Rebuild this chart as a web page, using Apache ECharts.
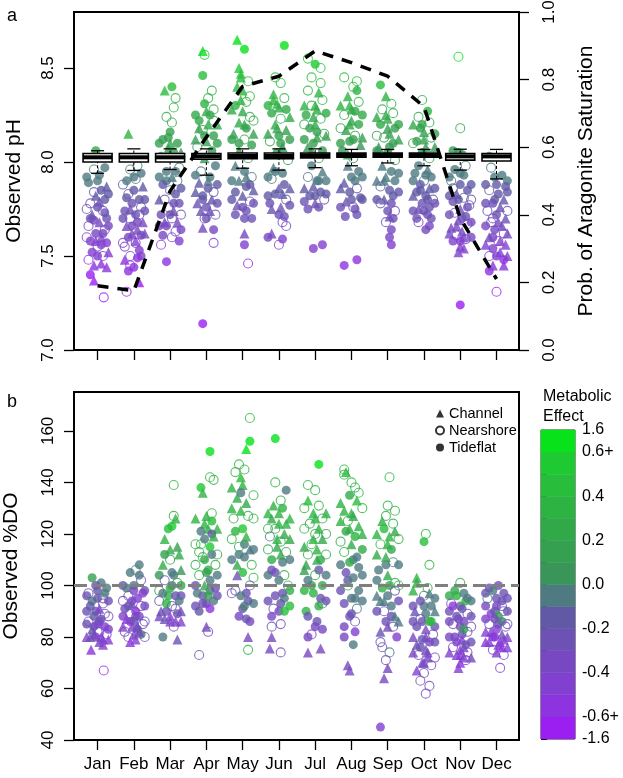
<!DOCTYPE html>
<html><head><meta charset="utf-8">
<script src="https://cdn.jsdelivr.net/npm/echarts@6/dist/echarts.min.js"></script>
<style>html,body{margin:0;padding:0;background:#fff}#c{width:623px;height:778px}</style>
</head><body><div id="c"></div>
<script>
// ---------- data ----------
const months = ['Jan','Feb','Mar','Apr','May','Jun','Jul','Aug','Sep','Oct','Nov','Dec'];
const monthPos = [1,2,3,4,5,6,7,8,9,10,11,12];
const phTicks = [7.0, 7.5, 8.0, 8.5];
const probTicks = [0, 0.2, 0.4, 0.6, 0.8, 1.0];
const doTicks = [40, 60, 80, 100, 120, 140, 160];
const siteNames = ['Channel', 'Nearshore', 'Tideflat'];
const effectBreaks = [-1.6,-0.6,-0.5,-0.4,-0.3,-0.2,-0.1,0,0.1,0.2,0.3,0.4,0.5,0.6,1.6];
const effectLabels = ['-1.6','-0.6+','','-0.4','','-0.2','','0.0','','0.2','','0.4','','0.6+','1.6'];
const probSat = [0.19, 0.175, 0.47, 0.63, 0.78, 0.81, 0.885, 0.85, 0.81, 0.72, 0.39, 0.21];
const boxWhiskLo = [7.94,7.955,7.96,7.93,7.967,7.957,7.97,7.98,7.995,7.98,7.957,7.91];
const boxQ1 = [8.0,8.0,8.0,8.015,8.018,8.018,8.022,8.025,8.025,8.025,8.01,8.005];
const boxMed = [8.025,8.025,8.025,8.03,8.032,8.032,8.035,8.037,8.037,8.037,8.03,8.03];
const boxQ3 = [8.045,8.045,8.045,8.045,8.048,8.048,8.048,8.048,8.048,8.048,8.045,8.045];
const boxWhiskHi = [8.06,8.07,8.07,8.07,8.07,8.07,8.07,8.067,8.067,8.067,8.068,8.067];
const doRef = 100;

// point tuples: [x offset within month, value, metabolic effect, site (0 Channel, 1 Nearshore, 2 Tideflat)]
const phJan = [[-.3,7.92,-.08,2],[.3,7.83,-.17,2],[-.3,7.75,-.25,1],[.3,7.66,-.34,2],[-.3,7.6,-.4,1],[.3,7.52,-.48,0],[0,7.9,-.1,2],[-.1,7.69,-.31,2],[.1,7.56,-.44,2],[.05,7.79,-.21,0],[-.05,7.58,-.42,0],[.15,7.62,-.38,2],[-.2,7.7,-.3,2],[.2,7.73,-.27,2],[-.1,7.84,-.16,1],[0,7.5,-.5,2],
  [-.05,8.06,.2,2],[.2,7.97,-.05,2],[-.1,7.96,-.05,1],[.05,7.93,-.08,2],[-.25,7.89,-.1,2],[.25,7.87,-.12,0],[.1,7.85,-.15,2],[-.05,7.82,-.18,0],[.2,7.8,-.2,2],[-.2,7.78,-.22,1],[0,7.76,-.25,2],[.15,7.74,-.27,1],[-.15,7.72,-.28,0],[.25,7.7,-.3,2],[.05,7.68,-.32,0],[-.25,7.66,-.34,1],[.2,7.64,-.36,1],[-.05,7.62,-.38,2],[.1,7.6,-.4,0],[-.2,7.58,-.42,2],[.25,7.57,-.43,2],[0,7.55,-.45,1],[-.15,7.52,-.48,2],[.15,7.5,-.5,1],[-.25,7.48,-.52,1],[.1,7.46,-.55,0],[-.1,7.45,-.56,0],[.25,7.44,-.57,0],[-.2,7.4,-.62,2],[-.1,7.37,-.65,0],[.17,7.28,-.75,1]];
const phFeb = [[-.3,7.88,-.12,1],[.3,7.8,-.2,2],[-.3,7.7,-.3,2],[.3,7.62,-.38,0],[-.3,7.57,-.43,1],[.3,7.74,-.26,2],[0,7.92,-.08,2],[-.1,7.75,-.25,0],[.1,7.68,-.32,2],[.05,7.58,-.42,0],[-.05,7.66,-.34,2],[.15,7.72,-.28,1],[-.2,7.81,-.19,2],[.2,7.5,-.5,2],[-.1,7.45,-.55,1],
  [-.15,8.15,.3,0],[.1,7.98,-.05,1],[-.1,7.96,-.05,1],[.2,7.94,-.07,2],[.05,7.91,-.1,1],[-.2,7.9,-.1,2],[.25,7.87,-.13,0],[0,7.85,-.15,2],[-.15,7.83,-.18,1],[.15,7.8,-.2,2],[-.05,7.78,-.22,2],[.2,7.76,-.25,1],[-.25,7.74,-.27,2],[.05,7.72,-.28,2],[-.1,7.7,-.3,1],[.25,7.68,-.32,0],[-.2,7.66,-.34,0],[.1,7.64,-.36,0],[-.05,7.62,-.38,0],[.2,7.61,-.4,2],[-.15,7.6,-.4,2],[.05,7.57,-.43,1],[-.25,7.55,-.45,1],[.15,7.53,-.47,2],[-.1,7.5,-.5,1],[.1,7.49,-.52,2],[-.25,7.48,-.52,0],[0,7.44,-.56,2],[-.15,7.42,-.6,2],[.15,7.36,-.65,0],[-.2,7.31,-.7,1]];
const phMar = [[-.3,8.1,.1,2],[.3,8.05,.05,0],[-.3,7.92,-.08,2],[.3,7.86,-.14,2],[-.3,7.8,-.2,0],[.3,7.72,-.28,1],[-.3,7.66,-.34,2],[.3,7.64,-.36,2],[0,8.1,.1,0],[-.1,7.9,-.1,2],[.1,7.78,-.22,2],[0,7.72,-.28,2],[.05,7.6,-.4,1],[-.15,7.68,-.32,0],[.15,7.95,-.05,2],[-.05,8.13,.13,2],
  [-.15,8.38,.4,0],[.05,8.4,.42,2],[.15,8.34,.35,1],[.1,8.29,.32,1],[-.1,8.24,.28,1],[.05,8.21,.25,1],[0,8.16,.18,2],[-.2,8.12,.15,2],[.2,8.1,.12,2],[-.05,8.07,.1,0],[.1,8.05,.08,2],[-.25,8.03,.05,2],[.25,7.97,-.05,1],[-.1,7.95,-.05,2],[.05,7.92,-.08,0],[.2,7.9,-.1,1],[-.2,7.88,-.12,2],[0,7.85,-.15,1],[.15,7.83,-.18,2],[-.15,7.8,-.2,1],[.25,7.78,-.22,2],[-.05,7.76,-.25,1],[.1,7.74,-.27,0],[-.25,7.72,-.28,2],[.05,7.7,-.3,1],[.2,7.68,-.32,0],[-.1,7.66,-.34,2],[.15,7.63,-.37,1],[-.2,7.61,-.4,2],[.25,7.58,-.42,2],[-.25,7.56,-.45,1],[-.1,7.47,-.53,2]];
const phApr = [[-.3,8.25,.25,2],[.3,8.2,.2,0],[-.3,8.12,.12,0],[.3,8.1,.1,2],[-.3,7.93,-.07,2],[.3,7.88,-.12,2],[-.3,7.84,-.16,0],[.3,7.78,-.22,2],[0,8.27,.27,0],[-.05,8.14,.14,2],[.05,7.9,-.1,0],[-.1,7.8,-.2,2],[.1,7.74,-.26,0],[0,7.7,-.3,2],[-.2,8.18,.18,0],[.2,8.22,.22,1],
  [-.1,8.59,.6,0],[-.05,8.57,.58,1],[-.1,8.46,.45,2],[.15,8.38,.38,1],[.05,8.34,.33,1],[-.05,8.31,.3,2],[.2,8.28,.28,1],[.1,8.25,.25,2],[-.2,8.22,.22,2],[.05,8.2,.2,0],[-.1,8.17,.17,1],[.2,8.14,.14,2],[0,8.11,.12,0],[-.25,8.08,.08,1],[.15,8.06,.06,2],[-.05,8.02,.03,0],[.25,7.98,-.03,2],[-.15,7.95,-.05,1],[.1,7.92,-.08,2],[-.2,7.89,-.12,0],[.05,7.86,-.15,2],[.2,7.84,-.17,1],[-.1,7.82,-.19,2],[.15,7.8,-.2,0],[-.25,7.78,-.22,0],[0,7.76,-.25,2],[-.15,7.74,-.27,0],[.25,7.72,-.28,1],[-.05,7.7,-.3,1],[-.1,7.65,-.35,0],[.2,7.64,-.37,2],[.2,7.57,-.43,1],[-.1,7.14,-.8,2]];
const phMay = [[-.3,8.28,.28,0],[.3,8.22,.22,1],[-.3,8.12,.12,2],[.3,8.15,.15,0],[-.3,7.9,-.1,2],[.3,7.85,-.15,0],[-.3,7.8,-.2,2],[.3,7.78,-.22,2],[0,8.38,.38,0],[-.05,8.33,.33,0],[.05,8.2,.2,0],[-.1,8.1,.1,2],[.1,7.92,-.08,0],[0,7.76,-.24,2],[-.2,7.72,-.28,2],[.2,7.88,-.12,2],[-.05,8.45,.45,0],
  [-.15,8.65,.65,0],[.05,8.6,.6,2],[-.1,8.5,.5,0],[-.05,8.47,.46,0],[.15,8.43,.42,1],[-.15,8.4,.4,0],[.2,8.35,.35,1],[.1,8.32,.32,1],[-.2,8.3,.3,2],[0,8.27,.27,0],[.2,8.24,.24,1],[-.1,8.21,.21,0],[.1,8.18,.18,2],[-.25,8.15,.15,0],[.05,8.12,.12,1],[.25,8.09,.1,2],[-.1,8.06,.07,0],[.15,8.02,.02,1],[-.2,7.98,-.03,0],[.05,7.95,-.05,2],[.25,7.92,-.08,1],[-.1,7.9,-.1,0],[.1,7.87,-.13,2],[-.2,7.84,-.16,2],[0,7.82,-.18,0],[.2,7.79,-.21,1],[-.15,7.77,-.23,0],[.1,7.74,-.26,2],[.25,7.7,-.3,2],[.05,7.7,-.3,2],[.05,7.62,-.38,0],[.05,7.56,-.45,2],[.15,7.46,-.55,1]];
const phJun = [[-.3,8.3,.3,2],[.3,8.24,.24,0],[-.3,8.15,.15,0],[.3,8.12,.12,2],[-.3,7.92,-.08,2],[.3,7.86,-.14,0],[-.3,7.82,-.18,2],[.3,7.77,-.23,2],[0,8.29,.29,0],[-.05,8.18,.18,0],[.05,8.1,.1,2],[-.1,7.95,-.05,2],[.1,7.83,-.17,0],[0,7.72,-.28,2],[-.15,8.33,.33,0],[.2,7.66,-.34,1],
  [.15,8.62,.62,2],[-.1,8.45,.45,1],[.05,8.42,.42,1],[-.15,8.36,.36,0],[.15,8.34,.34,1],[-.05,8.31,.31,0],[.2,8.28,.28,2],[-.2,8.26,.26,2],[.05,8.23,.23,1],[-.1,8.2,.2,0],[.2,8.17,.17,0],[0,8.14,.14,2],[-.25,8.11,.11,1],[.1,8.08,.08,0],[-.05,8.05,.05,2],[.25,8.01,.01,1],[-.15,7.97,-.03,0],[.1,7.94,-.06,2],[-.2,7.91,-.09,1],[.15,7.88,-.12,2],[0,7.86,-.14,0],[-.1,7.83,-.17,2],[.2,7.8,-.2,1],[-.25,7.78,-.22,2],[.05,7.76,-.24,0],[-.2,7.75,-.25,0],[.15,7.71,-.29,2],[.1,7.68,-.32,1],[-.2,7.62,-.38,0],[-.3,7.6,-.4,2],[.1,7.59,-.41,2],[0,7.56,-.45,1]];
const phJul = [[-.3,8.3,.3,0],[.3,8.26,.26,2],[-.3,8.2,.2,1],[.3,8.14,.14,0],[-.3,8.12,.12,2],[.3,7.9,-.1,2],[-.3,7.86,-.14,0],[.3,7.83,-.17,2],[-.3,7.79,-.21,2],[0,8.3,.3,0],[-.05,8.24,.24,0],[.05,8.16,.16,2],[-.1,8.06,.06,0],[.1,7.9,-.1,2],[0,7.82,-.18,2],[.15,8.42,.42,1],[-.1,8.45,.45,1],
  [-.2,8.55,.55,1],[0,8.52,.55,2],[.15,8.5,.5,1],[-.2,8.38,.38,1],[.1,8.37,.37,0],[.2,8.33,.33,1],[-.1,8.3,.3,1],[.05,8.28,.28,0],[-.25,8.25,.25,2],[.15,8.23,.23,1],[0,8.2,.2,0],[-.15,8.18,.18,2],[.25,8.15,.15,1],[.05,8.13,.13,0],[-.05,8.1,.1,2],[-.2,8.08,.08,0],[.2,8.06,.06,2],[.1,8.02,.02,1],[-.1,7.98,-.02,2],[.2,7.95,-.05,0],[-.2,7.92,-.08,1],[.05,7.9,-.1,2],[-.05,7.87,-.13,0],[.15,7.84,-.16,2],[-.15,7.82,-.18,2],[.25,7.8,-.2,1],[0,7.78,-.22,0],[-.2,7.75,-.25,2],[.1,7.76,-.24,2],[-.05,7.54,-.46,2],[.2,7.56,-.44,2]];
const phAug = [[-.3,8.3,.3,0],[.3,8.25,.25,2],[-.3,8.18,.18,1],[.3,8.13,.13,0],[-.3,8.1,.1,2],[.3,7.92,-.08,2],[-.3,7.86,-.14,0],[.3,7.8,-.2,2],[-.3,7.76,-.24,2],[0,8.28,.28,0],[-.05,8.2,.2,0],[.05,8.12,.12,2],[-.1,8.04,.04,0],[.1,7.9,-.1,2],[0,7.8,-.2,2],[.1,7.75,-.25,2],
  [-.2,8.45,.45,1],[.15,8.43,.43,1],[.05,8.4,.4,1],[.15,8.38,.38,2],[-.1,8.35,.35,0],[.2,8.32,.32,1],[-.05,8.3,.3,0],[.1,8.27,.27,2],[-.2,8.25,.25,1],[0,8.22,.22,0],[.2,8.2,.2,2],[-.15,8.17,.17,0],[.1,8.14,.14,1],[-.05,8.11,.11,2],[.25,8.09,.09,0],[-.25,8.06,.06,2],[.05,8.02,.02,1],[-.1,7.98,-.02,0],[.2,7.95,-.05,2],[0,7.92,-.08,2],[-.2,7.89,-.11,0],[.15,7.86,-.14,1],[-.05,7.84,-.16,2],[.25,7.81,-.19,2],[-.15,7.79,-.21,0],[.05,7.76,-.24,1],[.15,7.72,-.28,2],[-.17,7.71,-.3,2],[-.2,7.45,-.55,2],[.15,7.48,-.52,2]];
const phSep = [[-.3,8.24,.24,0],[.3,8.2,.2,2],[-.3,8.14,.14,1],[.3,8.12,.12,0],[-.3,8.06,.06,2],[.3,7.94,-.06,2],[-.3,7.9,-.1,0],[.3,7.84,-.16,2],[-.3,7.8,-.2,2],[0,8.18,.18,0],[-.05,8.25,.25,0],[.05,8.08,.08,2],[-.1,7.9,-.1,0],[.1,7.78,-.22,2],[0,7.74,-.26,2],[.15,7.7,-.3,2],
  [-.2,8.41,.42,2],[-.05,8.35,.36,0],[.1,8.31,.32,1],[-.15,8.28,.28,1],[.15,8.26,.26,1],[0,8.23,.23,0],[-.2,8.2,.2,2],[.2,8.18,.18,2],[.05,8.15,.15,0],[-.1,8.13,.13,1],[.15,8.1,.1,2],[-.25,8.08,.08,0],[0,8.05,.05,2],[.2,8.01,.01,1],[-.15,7.98,-.02,0],[.1,7.95,-.05,2],[-.05,7.92,-.08,0],[.2,7.9,-.1,2],[-.2,7.87,-.13,1],[.05,7.85,-.15,2],[.15,7.82,-.18,2],[-.1,7.8,-.2,0],[-.2,7.78,-.22,1],[.2,7.74,-.26,1],[.05,7.71,-.29,0],[-.05,7.68,-.32,1],[.1,7.64,-.36,2],[.05,7.6,-.4,2],[.1,7.56,-.45,2]];
const phOct = [[-.3,8.2,.2,0],[.3,8.15,.15,2],[-.3,8.1,.1,1],[.3,8.08,.08,0],[-.3,7.9,-.1,2],[.3,7.86,-.14,2],[-.3,7.82,-.18,0],[.3,7.78,-.22,2],[-.3,7.74,-.26,2],[0,8.12,.12,0],[-.05,8.2,.2,2],[.05,7.93,-.07,2],[-.1,7.85,-.15,2],[.1,7.8,-.2,2],[0,7.74,-.26,2],[.2,7.7,-.3,2],[-.2,7.7,-.3,2],
  [-.05,8.33,.35,1],[.1,8.27,.3,2],[-.15,8.24,.25,1],[.15,8.21,.22,1],[-.1,8.18,.18,2],[0,8.16,.16,0],[.2,8.13,.13,1],[-.2,8.11,.11,2],[.05,8.08,.08,0],[-.05,8.05,.05,2],[.15,8.02,.02,1],[-.15,7.98,-.02,2],[.1,7.96,-.04,0],[-.25,7.94,-.06,2],[.2,7.92,-.08,2],[0,7.9,-.1,1],[-.1,7.88,-.12,2],[.15,7.86,-.14,0],[-.2,7.84,-.16,2],[.05,7.82,-.18,2],[.25,7.8,-.2,1],[-.05,7.78,-.22,2],[.15,7.76,-.24,2],[-.15,7.75,-.25,0],[.1,7.72,-.28,2],[-.15,7.68,-.32,1],[.15,7.66,-.34,2],[.05,7.64,-.36,2]];
const phNov = [[-.3,7.92,-.08,2],[.3,7.88,-.12,2],[-.3,7.82,-.18,2],[.3,7.8,-.2,1],[-.3,7.72,-.28,2],[.3,7.68,-.32,2],[-.3,7.62,-.38,0],[.3,7.6,-.4,2],[0,7.94,-.06,2],[-.05,7.8,-.2,2],[.05,7.7,-.3,2],[-.1,7.66,-.34,0],[.1,7.6,-.4,0],[0,7.58,-.42,2],[.2,7.76,-.24,2],[-.2,7.86,-.14,1],
  [-.05,8.56,.6,1],[0,8.18,.2,1],[-.2,8.06,.08,2],[-.05,8.05,.06,2],[.05,8.04,.05,2],[.15,7.98,-.02,1],[-.15,7.96,-.04,2],[.1,7.93,-.07,2],[-.25,7.9,-.1,1],[0,7.88,-.12,2],[.2,7.85,-.15,2],[-.1,7.83,-.17,0],[.1,7.81,-.19,1],[-.2,7.79,-.21,2],[.25,7.77,-.23,1],[0,7.75,-.25,0],[-.15,7.73,-.27,1],[.15,7.71,-.29,2],[-.05,7.69,-.31,0],[.2,7.67,-.33,1],[-.25,7.65,-.35,0],[.05,7.63,-.37,0],[-.1,7.61,-.39,1],[.15,7.59,-.41,1],[-.2,7.58,-.42,2],[0,7.55,-.45,0],[.1,7.54,-.46,0],[-.05,7.52,-.48,0],[0,7.24,-.8,2]];
const phDec = [[-.3,7.88,-.12,2],[.3,7.84,-.16,2],[-.3,7.78,-.22,2],[.3,7.74,-.26,1],[-.3,7.66,-.34,2],[.3,7.62,-.38,0],[-.3,7.56,-.44,0],[.3,7.5,-.5,0],[0,7.88,-.12,2],[-.05,7.8,-.2,2],[.05,7.68,-.32,0],[-.1,7.6,-.4,2],[.1,7.58,-.42,0],[0,7.5,-.5,2],[.2,7.45,-.55,0],[-.1,7.7,-.3,1],
  [-.2,8.03,.05,2],[-.15,7.97,-.03,1],[.15,7.93,-.07,2],[.3,7.9,-.1,2],[-.05,7.92,-.08,2],[.25,7.87,-.13,2],[-.2,7.85,-.15,1],[.05,7.83,-.17,2],[.2,7.8,-.2,0],[-.1,7.78,-.22,2],[.1,7.76,-.24,0],[-.25,7.74,-.26,1],[0,7.72,-.28,2],[.25,7.7,-.3,0],[-.15,7.68,-.32,1],[.15,7.66,-.34,0],[-.05,7.64,-.36,2],[.2,7.62,-.38,1],[-.2,7.6,-.4,0],[.05,7.58,-.42,1],[.25,7.56,-.44,0],[-.1,7.54,-.46,2],[.1,7.52,-.48,0],[-.2,7.5,-.5,1],[.2,7.48,-.52,2],[-.1,7.45,-.55,0],[-.2,7.42,-.58,2],[0,7.31,-.7,1]];

const doJan = [[-.3,96,-.25,2],[.3,94,-.3,2],[-.3,90,-.3,2],[.3,88,-.35,1],[-.3,85,-.25,2],[.3,83,-.4,2],[-.3,80,-.45,0],[.3,79,-.5,0],[0,98,-.2,2],[-.05,90,-.3,2],[.05,86,-.4,2],[-.1,84,-.45,2],[.1,80,-.5,0],[0,82,-.3,1],[.15,95,-.25,1],[-.15,94,-.05,2],
  [-.15,103,.1,2],[.1,101,-.05,2],[.25,99,-.05,2],[-.05,100,-.25,2],[-.25,97,-.25,1],[.2,97,-.05,2],[0,95,-.2,2],[.15,93,-.3,1],[-.2,92,-.2,2],[.05,91,-.45,0],[.2,89,-.3,1],[-.1,88,-.2,2],[.1,87,-.25,2],[-.25,86,-.3,1],[0,85,-.35,2],[.2,84,-.5,2],[-.15,83,-.2,0],[.05,82,-.4,1],[.25,81,-.55,1],[-.05,80,-.5,2],[-.2,80,-.3,0],[.15,79,-.45,0],[.05,78,-.4,0],[-.1,81,-.35,0],[-.18,75,-.6,0],[.15,77,-.5,0],[.17,67,-.55,1]];
const doFeb = [[-.3,100,-.3,2],[.3,98,-.25,2],[-.3,94,-.35,1],[.3,92,-.4,2],[-.3,88,-.45,2],[.3,86,-.3,1],[-.3,84,-.5,0],[.3,80,-.3,1],[0,100,-.05,2],[-.05,94,-.45,2],[.05,88,-.3,2],[-.1,86,-.55,2],[.1,84,-.4,0],[0,81,-.5,0],[.15,104,-.05,2],[-.15,92,-.25,2],
  [.15,108,-.05,2],[.05,106,-.05,1],[-.1,105,-.05,2],[.2,102,-.3,1],[-.2,99,-.05,2],[0,98,-.35,2],[.25,97,-.45,2],[-.15,96,-.3,1],[.1,95,-.5,2],[-.05,93,-.3,0],[.2,92,-.4,1],[-.25,91,-.25,2],[.05,90,-.55,2],[-.1,89,-.3,1],[.15,88,-.35,2],[-.2,87,-.45,0],[0,86,-.3,2],[.25,85,-.4,1],[-.05,84,-.5,0],[.1,83,-.25,2],[-.25,82,-.35,1],[.2,81,-.05,2],[-.15,80,-.2,1],[.05,79,-.45,0],[-.1,78,-.55,0],[.15,82,-.4,0]];
const doMar = [[-.3,104,.05,2],[.3,100,.25,2],[-.3,98,.2,1],[.3,96,-.25,2],[-.3,94,-.3,1],[.3,90,-.35,0],[-.3,88,-.4,0],[.3,86,-.45,0],[0,114,.2,0],[-.05,96,.3,2],[.05,100,-.05,2],[-.1,90,-.25,2],[.1,104,-.05,2],[0,86,-.45,0],[.15,91,-.3,1],[-.15,118,.3,0],
  [.1,139,.3,1],[.1,127,.35,1],[.15,126,.3,0],[.05,123,.55,2],[-.05,122,.4,2],[-.15,112,.1,2],[.2,115,.15,0],[.25,112,.2,0],[.3,106,0,0],[0,110,.15,1],[-.2,108,.25,0],[.05,105,-.05,2],[-.15,102,-.25,1],[.2,101,.25,1],[0,99,.2,2],[-.2,97,-.05,2],[.15,96,-.3,2],[.25,94,-.05,2],[-.1,93,.35,2],[.05,92,-.2,1],[-.25,90,-.3,0],[.2,89,-.25,2],[0,88,-.5,0],[-.15,87,-.3,0],[.15,86,-.5,0],[.1,84,-.3,1],[-.2,80,-.05,2],[.2,79,-.3,0]];
const doApr = [[-.3,126,.3,0],[.3,122,.35,0],[-.3,116,.3,1],[.3,112,.25,1],[-.3,108,.2,1],[.3,104,-.05,2],[-.3,100,-.25,2],[.3,96,-.3,2],[-.3,92,-.25,2],[0,127,.35,0],[-.05,110,.25,2],[.05,106,.3,2],[-.1,96,-.3,2],[.1,98,-.05,2],[0,93,-.3,2],[.15,112,-.05,2],[-.15,116,.4,1],
  [.1,152,.6,2],[-.15,138,.5,2],[-.1,136,.35,0],[.1,142,.3,1],[.2,141,.3,1],[.15,128,.3,1],[.15,125,.45,2],[-.05,124,.35,0],[.05,122,.3,0],[-.15,121,-.05,2],[.15,120,-.2,2],[-.05,118,-.05,2],[.2,119,.2,0],[-.2,113,.2,1],[.1,115,.5,2],[-.1,111,.3,1],[.25,108,.25,1],[0,105,.15,2],[-.2,104,.3,1],[.1,102,-.05,2],[-.05,100,.2,0],[.25,99,-.25,2],[-.25,97,-.05,2],[.05,96,.1,2],[.2,94,-.1,2],[-.1,93,-.25,2],[.1,91,-.55,2],[-.2,90,-.2,2],[0,84,-.35,0],[.05,82,-.3,1],[-.2,73,-.3,1]];
const doMay = [[-.3,138,.3,0],[.3,135,.35,1],[-.3,130,.3,0],[.3,126,.25,1],[-.3,118,.3,1],[.3,114,-.05,2],[-.3,110,-.05,2],[.3,103,.3,1],[-.3,97,-.25,1],[.3,93,-.05,2],[0,139,.3,0],[-.05,129,.35,0],[.05,116,-.05,2],[-.1,112,-.05,2],[.1,97,-.3,2],[0,91,-.2,2],[.2,86,-.35,2],
  [.2,165,.45,1],[.2,156,.6,2],[.1,153,.6,0],[-.1,147,.35,1],[.05,145,.3,1],[-.2,144,.3,1],[-.05,142,.4,0],[-.05,136,-.05,2],[-.15,134,.25,0],[.1,132,.2,0],[-.25,126,.25,1],[.15,127,.3,1],[0,122,.5,2],[-.2,121,.3,2],[.1,119,.35,0],[.2,114,-.05,0],[-.1,115,.25,1],[.05,111,-.05,2],[.25,108,.3,1],[-.15,108,.2,0],[0,105,.45,2],[-.15,104,-.3,0],[.2,100,-.25,1],[-.2,98,-.25,1],[-.05,96,-.05,2],[.15,94,-.2,2],[.05,92,-.05,2],[-.1,88,-.35,2],[.1,87,-.3,2],[.15,80,-.4,0],[.15,75,.3,1]];
const doJun = [[-.3,128,.3,0],[.3,126,.35,0],[-.3,122,.3,1],[.3,118,.25,0],[-.3,114,.25,1],[.3,110,-.05,2],[-.3,104,-.05,2],[.3,98,.3,2],[-.3,94,-.3,2],[.3,92,.45,2],[0,124,.3,0],[-.05,118,.3,0],[.05,112,.2,0],[-.1,105,-.3,2],[.1,97,-.25,2],[0,90,-.35,2],[-.2,84,-.3,1],
  [-.1,157,.6,2],[-.1,140,.3,1],[.2,137,-.05,2],[.05,133,.25,1],[-.15,131,.35,0],[.1,130,.3,2],[0,128,.3,0],[-.2,126,.25,0],[.2,124,.35,0],[-.1,122,.3,1],[.15,120,.25,0],[-.25,119,-.05,1],[.05,117,.3,1],[-.05,115,.2,0],[.2,113,.25,1],[-.2,110,.25,2],[.1,109,-.05,2],[-.2,106,-.3,2],[.15,104,.2,1],[0,102,-.05,2],[.25,100,.25,1],[-.1,96,-.25,2],[.15,95,-.05,2],[.05,93,-.2,2],[-.15,91,-.3,1],[.15,90,.45,2],[-.2,88,-.35,2],[.05,85,-.3,1],[-.2,80,-.35,0],[-.25,75.5,-.4,0],[.05,74,-.35,1]];
const doJul = [[-.3,130,.3,1],[.3,128,.35,0],[-.3,122,.3,1],[.3,120,.25,1],[-.3,115,.2,0],[.3,112,.25,1],[-.3,106,.15,0],[.3,104,-.05,2],[-.3,98,.3,2],[.3,94,-.25,2],[0,126,.3,0],[-.05,118,.3,0],[.05,110,.25,0],[-.1,100,.2,2],[.1,92,.35,2],[0,84,-.35,2],[-.2,80,-.4,2],
  [.1,147,.6,2],[-.2,139,.3,1],[0,137,.35,1],[-.2,133,.4,0],[.1,131,.3,1],[-.05,128,.3,0],[.2,126,.25,1],[-.15,124,.2,1],[.1,122,.3,0],[0,120,.25,1],[.2,118,.2,0],[-.1,116,.35,1],[.05,114,.3,0],[-.2,112,.25,1],[.15,110,.2,2],[-.25,108,.15,0],[.1,106,-.3,2],[0,104,.25,1],[-.2,102,-.05,2],[.2,100,.2,2],[-.05,97,.3,2],[.15,95,-.25,2],[.2,93,-.05,1],[-.25,90,.3,2],[-.2,88,-.25,2],[.05,86,-.3,2],[.2,83,-.4,2],[-.1,81,-.35,1],[-.2,74,-.35,0],[.15,75.5,-.4,0]];
const doAug = [[-.3,132,.35,0],[.3,130,.3,1],[-.3,125,.3,0],[.3,120,.3,0],[-.3,117,.25,1],[.3,114,.2,2],[-.3,108,-.05,2],[.3,104,-.05,2],[-.3,98,-.25,2],[.3,94,-.05,2],[0,128,.35,0],[-.05,122,.3,0],[.05,110,-.05,2],[-.1,102,-.3,2],[.1,95,-.05,2],[0,89,-.3,2],[-.2,80,-.4,2],
  [-.2,145,.35,1],[-.15,144,.4,0],[-.2,143,.3,1],[0,140,.3,1],[.1,138,.3,1],[.2,136,.35,1],[-.05,135,.25,2],[.15,133,.4,0],[-.2,129,.3,0],[.05,127,.25,0],[-.1,125,.3,1],[.2,123,.3,0],[-.15,121,.25,2],[.1,119,.35,2],[0,116,.25,0],[-.2,113,.3,1],[.15,111,-.05,2],[-.05,109,.2,2],[.2,107,-.05,2],[-.15,105,-.3,2],[.05,103,-.05,2],[-.1,100,.25,1],[.2,98,-.05,2],[0,95,-.05,2],[-.2,93,-.3,2],[.15,91,-.05,1],[-.05,88,-.25,2],[.1,86,-.3,1],[-.2,84,-.35,2],[.1,82,-.45,2],[.05,77,-.05,2],[-.1,69,-.4,0],[-.05,67,-.35,0]];
const doSep = [[-.3,120,.3,0],[.3,118,.3,1],[-.3,112,.25,0],[.3,108,-.05,2],[-.3,102,-.05,2],[.3,100,.25,1],[-.3,96,-.05,0],[.3,94,-.25,2],[-.3,90,-.3,2],[.3,86,-.05,0],[0,116,.3,0],[-.05,108,-.05,2],[.05,100,.35,2],[-.1,94,-.05,0],[.1,88,-.3,2],[0,84,-.35,0],[-.2,78,-.3,1],
  [.05,142,.3,1],[0,131,.3,1],[.2,129,.35,1],[-.05,127,.25,1],[-.15,125,.35,0],[.15,124,.35,1],[-.1,122,.4,2],[.2,121,.25,0],[.05,119,.3,0],[-.2,116,.3,1],[.1,114,.2,2],[-.05,111,.25,0],[.15,109,-.05,1],[-.25,106,-.05,2],[0,104,.25,0],[.2,101,.2,1],[-.15,99,.35,2],[.2,98,-.3,1],[0,96,-.05,2],[-.2,94,-.05,0],[.1,92,-.05,2],[-.1,90,-.3,1],[.2,88,-.05,0],[-.05,86,-.25,2],[.15,84,-.3,1],[-.2,82,-.3,0],[.25,80,-.45,2],[-.15,76,-.3,1],[.05,74,-.05,1],[-.05,71,-.3,1],[-.1,64,-.35,0],[0,68,-.35,0],[-.2,45,-.5,2]];
const doOct = [[-.3,98,.3,0],[.3,95,-.05,2],[-.3,92,-.25,2],[.3,90,-.05,0],[-.3,86,-.3,2],[.3,84,-.25,2],[-.3,80,-.35,0],[.3,78,-.3,2],[-.3,74,-.4,0],[.3,72,-.35,1],[0,92,-.05,2],[-.05,86,-.3,2],[.05,80,-.35,0],[-.1,76,-.3,2],[.1,74,-.45,0],[0,70,-.35,0],[.2,86,.4,2],
  [.05,120,.3,1],[0,117,.45,2],[.15,108,.3,1],[-.2,103,.3,0],[-.2,101,.2,0],[.1,99,.25,1],[.15,97,-.05,0],[0,96,-.05,1],[-.1,94,-.25,2],[.2,92,-.05,2],[-.25,90,-.3,0],[.05,89,-.05,2],[-.1,87,-.3,1],[.15,86,.3,2],[-.2,84,-.25,2],[.05,83,-.35,0],[.25,81,-.3,1],[-.05,79,-.3,2],[.15,78,-.4,2],[-.2,77,-.3,0],[.05,75,-.3,0],[-.15,73,-.35,1],[.1,72,-.35,0],[-.05,70,-.4,0],[.2,69,-.4,1],[-.2,67,-.45,0],[0,66,-.3,1],[-.1,63,-.3,1],[.05,58,-.35,1],[.15,61,-.35,1]];
const doNov = [[-.3,96,.2,2],[.3,94,-.05,2],[-.3,90,-.3,2],[.3,88,-.25,2],[-.3,86,-.4,2],[.3,84,-.3,1],[-.3,80,-.35,2],[.3,78,-.3,2],[-.3,74,-.45,0],[.3,72,-.4,0],[0,92,-.05,2],[-.05,87,-.35,2],[.05,81,-.3,2],[-.1,78,-.45,2],[.1,76,-.5,0],[0,73,-.55,0],[.15,94,.3,2],
  [0,101,.3,1],[-.15,98,.2,2],[-.1,96,.3,2],[.1,97,-.05,2],[.2,95,-.05,2],[-.25,93,-.25,1],[-.2,92,-.6,2],[.05,91,-.3,2],[.2,89,-.3,1],[-.1,88,-.25,2],[.1,86,-.4,2],[-.2,85,-.3,1],[0,84,-.35,2],[.1,83,.15,2],[.2,82,-.3,1],[-.15,80,-.35,2],[.05,79,-.45,0],[.15,77,-.3,2],[-.2,76,-.4,1],[0,75,-.5,0],[.2,74,-.35,1],[-.1,73,-.45,0],[.1,72,-.5,0],[0,70,-.55,0],[-.05,68,-.5,0],[.15,71,-.4,1]];
const doDec = [[-.3,97,-.3,2],[.3,95,-.25,2],[-.3,92,-.35,2],[.3,90,-.3,2],[-.3,87,-.45,2],[.3,85,-.3,1],[-.3,82,-.5,0],[.3,80,-.45,0],[-.3,78,-.55,0],[.3,76,-.5,0],[0,95,-.3,2],[-.05,90,-.05,2],[.05,85,-.35,2],[-.1,80,-.5,2],[.1,78,-.55,0],[0,74,-.5,0],[.15,92,-.3,1],
  [.05,100,-.35,2],[-.2,99,-.3,2],[-.1,98,-.05,2],[.2,97,-.3,2],[-.25,95,-.1,1],[.15,94,-.3,2],[0,92,-.35,2],[.2,90,-.25,1],[-.15,89,-.45,2],[.05,88,.1,2],[-.05,87,-.4,2],[.15,86,-.05,2],[-.2,85,-.3,1],[.25,84,-.35,1],[0,83,-.5,2],[-.15,82,-.45,0],[.15,81,-.3,0],[-.05,80,-.55,2],[.2,79,-.5,0],[-.2,78,-.45,0],[.05,77,-.5,0],[.15,76,-.55,0],[-.1,75,-.45,1],[.2,73,-.4,1],[.1,68,-.45,1]];

const phByMonth = [phJan,phFeb,phMar,phApr,phMay,phJun,phJul,phAug,phSep,phOct,phNov,phDec];
const doByMonth = [doJan,doFeb,doMar,doApr,doMay,doJun,doJul,doAug,doSep,doOct,doNov,doDec];

// ---------- style ----------
const bandColors = ['#9b1ff0','#8d33df','#8240d0','#7748c2','#6d51b5','#6259a6','#4e7a82',
                    '#3a9658','#35a04f','#31a949','#2db342','#28bd3b','#1fc932','#08e21a'];
const FONT = '"Liberation Sans", Arial, Helvetica, sans-serif';
function effColor(e){
  for (let i = effectBreaks.length - 2; i >= 0; i--) if (e >= effectBreaks[i] - 1e-9) return bandColors[i];
  return bandColors[0];
}
function buildPoints(byMonth){
  const out = [];
  byMonth.forEach((arr, m) => arr.forEach(p => {
    const c = effColor(p[2]); const s = p[3];
    out.push({
      value: [monthPos[m] + p[0], p[1]],
      symbol: s === 0 ? 'triangle' : 'circle',
      symbolSize: s === 0 ? 10 : 9,
      itemStyle: s === 1 ? {color: 'rgba(0,0,0,0)', borderColor: c, borderWidth: 1.1}
                         : {color: c, borderWidth: 0}
    });
  }));
  return out;
}
const XMIN = 0.35, XMAX = 12.62;
const tickStyle = {show: true, inside: false, length: 10, lineStyle: {color: '#000', width: 1.3}};
function xAxisCfg(grid, labels){
  return {type: 'value', gridIndex: grid, min: XMIN, max: XMAX, scale: false,
    axisLine: {show: false}, splitLine: {show: false},
    axisTick: Object.assign({customValues: monthPos}, tickStyle),
    axisLabel: {show: labels, customValues: monthPos, formatter: v => months[Math.round(v) - 1],
      color: '#000', fontSize: 17, fontFamily: FONT, margin: 16}};
}
function yAxisCfg(grid, min, max, ticks, dec, pos, name, gap, margin){
  return {type: 'value', gridIndex: grid, min: min, max: max, position: pos,
    axisLine: {show: false}, splitLine: {show: false},
    axisTick: Object.assign({customValues: ticks}, tickStyle),
    axisLabel: {customValues: ticks, formatter: v => v.toFixed(dec), rotate: 90,
      color: '#000', fontSize: 17, fontFamily: FONT, margin: margin},
    name: name, nameLocation: 'middle', nameRotate: 90, nameGap: gap,
    nameTextStyle: {color: '#000', fontSize: 21, fontFamily: FONT}};
}
const gridBase = {show: true, borderColor: '#000', borderWidth: 2, backgroundColor: 'rgba(0,0,0,0)', containLabel: false, outerBoundsMode: 'none'};

const chart = echarts.init(document.getElementById('c'), null, {renderer: 'canvas'});
chart.setOption({
  animation: false,
  backgroundColor: '#fff',
  textStyle: {fontFamily: FONT},
  title: [
    {text: 'a', left: 2, top: 2, textStyle: {fontSize: 18, fontWeight: 'normal', color: '#000', fontFamily: FONT}},
    {text: 'b', left: 2, top: 388, textStyle: {fontSize: 18, fontWeight: 'normal', color: '#000', fontFamily: FONT}},
    {text: 'Metabolic\nEffect', left: 538, top: 382, textStyle: {fontSize: 16, lineHeight: 20, fontWeight: 'normal', color: '#000', fontFamily: FONT}}
  ],
  legend: {
    left: 430, top: 400, orient: 'vertical', itemWidth: 8, itemHeight: 8, itemGap: 0,
    selectedMode: false,
    textStyle: {fontSize: 14.5, color: '#000', fontFamily: FONT, lineHeight: 17},
    data: [{name: siteNames[0], icon: 'triangle'}, {name: siteNames[1], icon: 'emptyCircle'}, {name: siteNames[2], icon: 'circle'}]
  },
  grid: [
    Object.assign({left: 74, top: 12, width: 445, height: 338}, gridBase),
    Object.assign({left: 74, top: 392, width: 445, height: 348}, gridBase),
    Object.assign({left: 541, top: 430, width: 34, height: 309}, gridBase, {borderColor: '#333', borderWidth: 1})
  ],
  xAxis: [
    xAxisCfg(0, false),
    xAxisCfg(1, true),
    {type: 'value', gridIndex: 2, min: 0, max: 1, show: false}
  ],
  yAxis: [
    yAxisCfg(0, 7.0, 8.798, phTicks, 1, 'left', 'Observed pH', 49, 17),
    yAxisCfg(0, 0, 1, probTicks, 1, 'right', 'Prob. of Aragonite Saturation', 57, 22),
    yAxisCfg(1, 40, 175.1, doTicks, 0, 'left', 'Observed %DO', 52, 17),
    {type: 'value', gridIndex: 2, min: 0, max: 14, interval: 1, position: 'right',
      axisLine: {show: false}, splitLine: {show: false},
      axisTick: {show: true, inside: false, length: 6, lineStyle: {color: '#000', width: 1}},
      axisLabel: {formatter: v => effectLabels[Math.round(v)], color: '#000', fontSize: 16, fontFamily: FONT, margin: 7}}
  ],
  series: [
    {type: 'line', xAxisIndex: 1, yAxisIndex: 2, data: [], z: 1, silent: true,
      markLine: {silent: true, symbol: ['none','none'], label: {show: false},
        lineStyle: {color: '#7f7f7f', width: 3, type: [13, 6]}, data: [{yAxis: doRef}]}},
    {type: 'scatter', name: 'pH points', xAxisIndex: 0, yAxisIndex: 0, z: 2, silent: true,
      data: buildPoints(phByMonth)},
    {type: 'scatter', name: 'DO points', xAxisIndex: 1, yAxisIndex: 2, z: 2, silent: true,
      data: buildPoints(doByMonth)},
    {type: 'custom', xAxisIndex: 0, yAxisIndex: 0, z: 5, silent: true,
      data: monthPos.map((x, i) => [x, boxWhiskLo[i], boxQ1[i], boxMed[i], boxQ3[i], boxWhiskHi[i]]),
      renderItem: function(params, api){
        const x = api.value(0);
        const lo = api.coord([x, api.value(1)]), q1 = api.coord([x, api.value(2)]),
              md = api.coord([x, api.value(3)]), q3 = api.coord([x, api.value(4)]), hi = api.coord([x, api.value(5)]);
        const l = api.coord([x - 0.4, api.value(3)])[0], r = api.coord([x + 0.4, api.value(3)])[0];
        const cl = api.coord([x - 0.18, api.value(3)])[0], cr = api.coord([x + 0.18, api.value(3)])[0];
        const ls = {stroke: '#000', lineWidth: 1, lineDash: [3, 2]};
        const cs = {stroke: '#000', lineWidth: 1.3};
        return {type: 'group', children: [
          {type: 'line', shape: {x1: lo[0], y1: lo[1], x2: q1[0], y2: q1[1]}, style: ls},
          {type: 'line', shape: {x1: q3[0], y1: q3[1], x2: hi[0], y2: hi[1]}, style: ls},
          {type: 'line', shape: {x1: cl, y1: lo[1], x2: cr, y2: lo[1]}, style: cs},
          {type: 'line', shape: {x1: cl, y1: hi[1], x2: cr, y2: hi[1]}, style: cs},
          {type: 'rect', shape: {x: l, y: q3[1], width: r - l, height: q1[1] - q3[1]}, style: {fill: '#fff', stroke: '#000', lineWidth: 1.6}},
          {type: 'line', shape: {x1: l, y1: md[1], x2: r, y2: md[1]}, style: {stroke: '#000', lineWidth: 4}}
        ]};
      }},
    {type: 'line', xAxisIndex: 0, yAxisIndex: 1, z: 6, silent: true, symbol: 'none',
      data: monthPos.map((x, i) => [x, probSat[i]]),
      lineStyle: {color: '#000', width: 3.5, type: [11, 9]}},
    {type: 'custom', xAxisIndex: 2, yAxisIndex: 3, z: 3, silent: true,
      data: bandColors.map((c, i) => [i]),
      renderItem: function(params, api){
        const i = api.value(0);
        const p0 = api.coord([0, i]), p1 = api.coord([1, i + 1]);
        return {type: 'rect', shape: {x: p0[0], y: p1[1], width: p1[0] - p0[0], height: p0[1] - p1[1]},
          style: {fill: bandColors[i], stroke: bandColors[i], lineWidth: 0.5}};
      }},
    {type: 'scatter', name: siteNames[0], xAxisIndex: 1, yAxisIndex: 2, data: [], symbol: 'triangle', itemStyle: {color: '#000'}},
    {type: 'scatter', name: siteNames[1], xAxisIndex: 1, yAxisIndex: 2, data: [], symbol: 'emptyCircle', itemStyle: {color: '#000'}},
    {type: 'scatter', name: siteNames[2], xAxisIndex: 1, yAxisIndex: 2, data: [], symbol: 'circle', itemStyle: {color: '#000'}}
  ]
});
</script></body></html>
